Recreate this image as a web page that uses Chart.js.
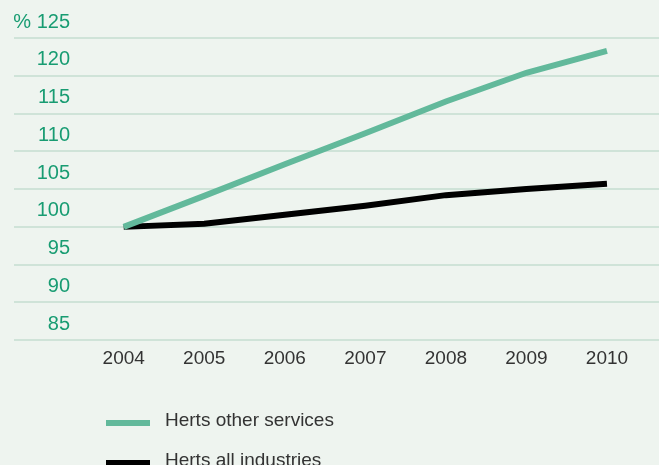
<!DOCTYPE html>
<html>
<head>
<meta charset="utf-8">
<script src="https://cdn.jsdelivr.net/npm/chart.js@4"></script>
<style>
  html, body { margin: 0; padding: 0; background: #eef4ef; }
  #wrap { width: 659px; height: 465px; }
</style>
</head>
<body>
<div id="wrap"><canvas id="growthChart" width="659" height="465"></canvas></div>
<script>
const years = [2004, 2005, 2006, 2007, 2008, 2009, 2010];
const otherServices = [100, 104.1, 108.3, 112.4, 116.6, 120.4, 123.3];
const allIndustries = [100, 100.4, 101.6, 102.8, 104.2, 105.0, 105.7];
const seriesNames = ["Herts other services", "Herts all industries"];
const seriesColors = ["#62b99b", "#000000"];
const yMin = 85;
const yMax = 125;
const yStep = 5;

const fontFamily = '"Liberation Sans", Arial, sans-serif';

// measure the widest y label so the right-aligned labels end at x=70
const measure = document.createElement("canvas").getContext("2d");
measure.font = "20px " + fontFamily;
const widestY = measure.measureText("% " + yMax).width;

// legend drawn under the plot, one item per row
const legendBelow = {
  id: "legendBelow",
  afterDraw(chart) {
    const ctx = chart.ctx;
    ctx.save();
    chart.data.datasets.forEach((ds, i) => {
      const y = 423 + i * 40;
      ctx.strokeStyle = ds.borderColor;
      ctx.lineWidth = 6;
      ctx.beginPath();
      ctx.moveTo(106, y);
      ctx.lineTo(150, y);
      ctx.stroke();
      ctx.fillStyle = "#333333";
      ctx.font = "19px " + fontFamily;
      ctx.textBaseline = "middle";
      ctx.fillText(ds.label, 165, y - 2);
    });
    ctx.restore();
  }
};

const ctx = document.getElementById("growthChart").getContext("2d");

new Chart(ctx, {
  type: "line",
  data: {
    datasets: [
      {
        label: seriesNames[0],
        data: years.map((yr, i) => ({ x: yr, y: otherServices[i] })),
        borderColor: seriesColors[0],
        backgroundColor: seriesColors[0],
        borderWidth: 6,
        pointRadius: 0,
        tension: 0
      },
      {
        label: seriesNames[1],
        data: years.map((yr, i) => ({ x: yr, y: allIndustries[i] })),
        borderColor: seriesColors[1],
        backgroundColor: seriesColors[1],
        borderWidth: 6,
        pointRadius: 0,
        tension: 0
      }
    ]
  },
  options: {
    responsive: false,
    animation: false,
    layout: {
      padding: { left: 14, right: 0, top: 38, bottom: 88 }
    },
    scales: {
      x: {
        type: "linear",
        min: 2002.638,
        max: 2010.646,
        afterBuildTicks: (scale) => {
          scale.ticks = years.map((v) => ({ value: v }));
        },
        grid: { display: false, drawTicks: false },
        border: { display: false },
        ticks: {
          autoSkip: false,
          maxRotation: 0,
          padding: 7,
          color: "#333333",
          font: { family: fontFamily, size: 19 },
          callback: (value) => String(value)
        }
      },
      y: {
        min: yMin,
        max: yMax,
        afterFit: (scale) => {
          scale.width = 0;
        },
        grid: {
          color: "#cfe3d8",
          lineWidth: 2,
          drawTicks: false
        },
        border: { display: false },
        ticks: {
          stepSize: yStep,
          mirror: true,
          crossAlign: "far",
          padding: 56 - widestY,
          labelOffset: -16,
          color: "#189c72",
          font: { family: fontFamily, size: 20 },
          callback: (value) => (value === yMax ? "% " + value : value)
        }
      }
    },
    plugins: {
      legend: { display: false },
      tooltip: { enabled: false }
    }
  },
  plugins: [legendBelow]
});
</script>
</body>
</html>
